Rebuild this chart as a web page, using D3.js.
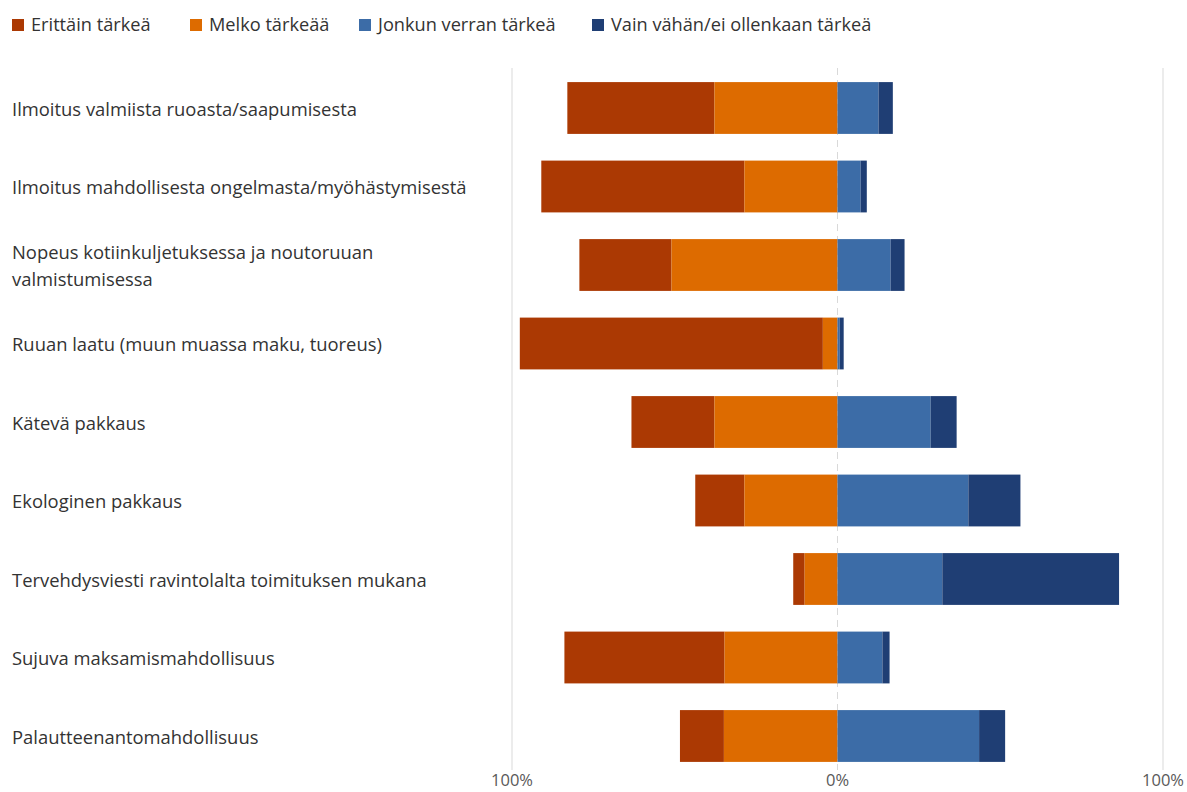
<!DOCTYPE html>
<html><head><meta charset="utf-8">
<script src="https://cdn.jsdelivr.net/npm/d3@7"></script>
<style>body{margin:0;background:#fff;} svg{display:block;font-family:"Open Sans","Noto Sans",sans-serif;}</style>
</head><body>
<svg id="chart" width="1187" height="792"></svg>
<script>
const categories = [
  "Ilmoitus valmiista ruoasta/saapumisesta",
  "Ilmoitus mahdollisesta ongelmasta/myöhästymisestä",
  "Nopeus kotiinkuljetuksessa ja noutoruuan valmistumisessa",
  "Ruuan laatu (muun muassa maku, tuoreus)",
  "Kätevä pakkaus",
  "Ekologinen pakkaus",
  "Tervehdysviesti ravintolalta toimituksen mukana",
  "Sujuva maksamismahdollisuus",
  "Palautteenantomahdollisuus"
];
const seriesNames = ["Erittäin tärkeä","Melko tärkeää","Jonkun verran tärkeä","Vain vähän/ei ollenkaan tärkeä"];
const erittain = [45.2, 62.4, 28.3, 93.1, 25.5, 15.1, 3.5, 49.2, 13.5];
const melko    = [37.8, 28.6, 51.0,  4.5, 37.8, 28.6, 10.1, 34.7, 34.9];
const jonkun   = [12.6,  7.1, 16.3,  0.7, 28.6, 40.2, 32.2, 13.8, 43.5];
const vain     = [ 4.4,  1.9,  4.3,  1.2,  8.0, 16.0, 54.3,  2.2,  8.0];
const tickValues = [-100, 0, 100];
const tickLabels = ["100%", "0%", "100%"];
const colors = ["#AB3903", "#DD6B00", "#3C6CA7", "#1F3E74"];

const svg = d3.select("#chart");
const x = d3.scaleLinear().domain([-100, 100]).range([512, 1163]);
const y = d3.scaleBand().domain(categories).range([68.75, 775.25]).paddingInner(0.34).paddingOuter(0.17);

// gridlines
svg.append("g").selectAll("line").data(tickValues).join("line")
  .attr("x1", d => x(d)).attr("x2", d => x(d))
  .attr("y1", 68).attr("y2", 770)
  .attr("stroke", "#d9d9d9").attr("stroke-width", 1)
  .attr("stroke-dasharray", d => d === 0 ? "7,5" : null);

// segments
const rows = categories.map((c, i) => {
  const segs = [];
  segs.push({s: 0, x0: -(erittain[i] + melko[i]), x1: -melko[i]});
  segs.push({s: 1, x0: -melko[i], x1: 0});
  segs.push({s: 2, x0: 0, x1: jonkun[i]});
  segs.push({s: 3, x0: jonkun[i], x1: jonkun[i] + vain[i]});
  return {c, segs};
});
const g = svg.append("g");
rows.forEach(r => {
  g.selectAll(null).data(r.segs).join("rect")
    .attr("x", d => x(d.x0)).attr("width", d => x(d.x1) - x(d.x0))
    .attr("y", y(r.c)).attr("height", y.bandwidth())
    .attr("fill", d => colors[d.s]);
});

// category labels
const labelLines = {
  "Nopeus kotiinkuljetuksessa ja noutoruuan valmistumisessa": ["Nopeus kotiinkuljetuksessa ja noutoruuan", "valmistumisessa"]
};
categories.forEach(c => {
  const lines = labelLines[c] || [c];
  const cy = y(c) + y.bandwidth() / 2;
  const t = svg.append("text").attr("x", 12).attr("fill", "#333333").style("font-size", "18.4px");
  lines.forEach((ln, j) => {
    t.append("tspan").attr("x", 12)
      .attr("y", cy + 7.5 + (j - (lines.length - 1) / 2) * 26.5)
      .text(ln);
  });
});

// axis labels
svg.append("g").selectAll("text").data(tickValues).join("text")
  .attr("x", d => x(d)).attr("y", 786).attr("text-anchor", "middle")
  .attr("fill", "#595959").style("font-size", "16.5px")
  .text((d, i) => tickLabels[i]);

// legend
const legendX = [12, 190, 359, 592];
const leg = svg.append("g");
seriesNames.forEach((n, i) => {
  leg.append("rect").attr("x", legendX[i]).attr("y", 19).attr("width", 12).attr("height", 12).attr("fill", colors[i]);
  leg.append("text").attr("x", legendX[i] + 19).attr("y", 31).attr("fill", "#333333").style("font-size", "18.2px").text(n);
});
</script>
</body></html>
